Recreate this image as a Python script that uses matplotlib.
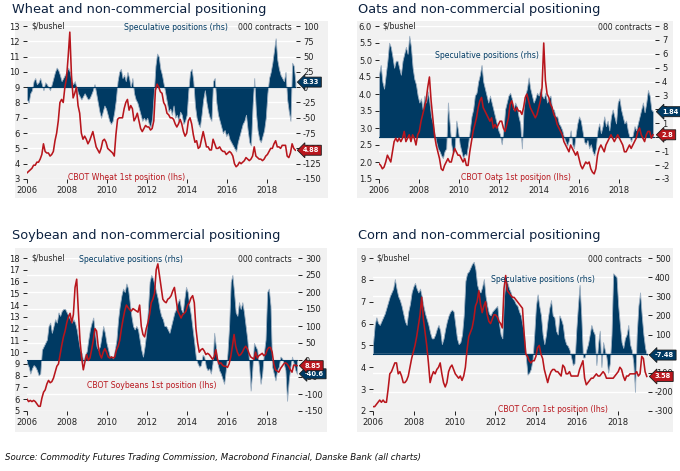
import numpy as np
import matplotlib
matplotlib.use('Agg')
import matplotlib.pyplot as plt
from matplotlib.patches import Rectangle

# ---------------- data (monthly, Jan 2006 onward) ----------------
wheat_price = [3.4, 3.5, 3.6, 3.7, 3.9, 3.9, 4.1, 4.1, 4.3, 4.6, 5.3, 4.8,
               4.7, 4.7, 4.5, 4.6, 4.8, 5.5, 6.0, 6.8, 8.0, 8.2, 8.0, 9.0,
               9.6, 11.0, 12.6, 9.8, 8.3, 8.6, 9.0, 7.8, 7.3, 6.0, 5.6, 5.8,
               5.6, 5.3, 5.5, 5.8, 6.1, 5.6, 5.1, 4.9, 4.7, 5.0, 5.5, 5.6,
               5.4, 5.0, 4.9, 4.8, 4.7, 4.5, 5.9, 6.9, 7.0, 7.0, 7.0, 7.6,
               8.0, 8.2, 7.5, 7.8, 7.6, 6.8, 7.0, 7.3, 6.8, 6.3, 6.1, 6.3,
               6.5, 6.4, 6.4, 6.2, 6.3, 6.8, 8.8, 9.2, 9.0, 8.7, 8.6, 8.0,
               7.8, 7.3, 7.2, 7.0, 7.0, 6.9, 6.6, 6.4, 6.6, 6.9, 6.6, 6.1,
               5.8, 6.0, 6.8, 7.0, 6.6, 5.9, 5.4, 5.5, 5.0, 5.1, 5.6, 6.1,
               5.6, 5.1, 5.1, 4.9, 4.9, 5.6, 5.3, 5.0, 5.0, 5.1, 4.9, 4.8,
               4.8, 4.6, 4.7, 4.8, 4.7, 4.5, 4.0, 3.8, 3.9, 4.1, 4.0, 4.1,
               4.2, 4.4, 4.3, 4.2, 4.3, 4.5, 5.1, 4.5, 4.4, 4.3, 4.3, 4.2,
               4.3, 4.5, 4.6, 4.8, 5.0, 5.0, 5.3, 5.5, 5.1, 5.1, 5.0, 5.2,
               5.2, 5.2, 4.5, 4.4, 4.7, 5.3, 5.0, 4.88]
wheat_pos = [-20, -25, -10, -5, 10, 15, 5, 8, 15, 5, -5, 8,
             5, 0, -5, 5, 15, 25, 32, 28, 20, 10, 15, 20,
             25, 32, 25, 10, 5, 10, 0, -10, -15, -20, -15, -10,
             -15, -20, -18, -12, -5, 5, -10, -25, -40, -50, -40, -30,
             -35, -45, -55, -60, -55, -40, -20, 10, 25, 30, 15, 20,
             10, 25, 15, 0, 15, -10, -20, -25, -35, -45, -55, -50,
             -55, -50, -60, -65, -50, -10, 35, 55, 50, 30, 20, 5,
             -10, -25, -40, -35, -45, -30, -50, -45, -55, -40, -45, -60,
             -55, -45, -5, 25, 30, 10, -30, -50, -60, -65, -45, -20,
             -5, -25, -40, -50, -55, 10, 15, -25, -45, -55, -65, -75,
             -70, -80, -75, -85, -90, -95, -100, -105, -90, -80, -70, -60,
             -55, -45, -70, -90, -95, -30, 15, -40, -70, -85, -90, -80,
             -70, -50, -10, 15, 25, 40, 60, 80, 45, 30, 20, 15,
             10, 25, -20, -40, -55, 40, 35, 8.33]

oats_price = [1.95, 1.9, 1.8, 1.85, 2.0, 2.2, 2.1, 2.0, 2.3, 2.6, 2.7, 2.6,
              2.7, 2.6, 2.7, 2.9, 2.6, 2.7, 2.8, 2.6, 2.8, 2.7, 2.5, 2.8,
              2.9, 3.2, 3.4, 3.6, 3.8, 4.2, 4.5, 3.8, 3.3, 2.8, 2.5, 2.3,
              2.1, 1.8, 1.75, 1.9, 2.0, 2.1, 2.0, 2.0, 2.2, 2.4, 2.3, 2.2,
              2.2, 2.1, 2.0, 2.1, 1.9, 1.9, 2.3, 2.6, 2.9, 3.1, 3.3, 3.6,
              3.8, 3.9, 3.6, 3.5, 3.4, 3.3, 3.2, 3.3, 3.0, 3.1, 3.0, 3.1,
              3.2, 3.2, 3.0, 2.9, 3.1, 3.3, 3.7, 3.8, 3.6, 3.5, 3.6, 3.5,
              3.5, 3.4, 3.6, 3.9, 4.0, 3.8, 3.6, 3.5, 3.4, 3.3, 3.4, 3.6,
              3.8, 4.2, 5.5, 4.4, 4.0, 3.9, 3.7, 3.6, 3.4, 3.3, 3.1, 3.0,
              2.9, 2.8, 2.6, 2.5, 2.4, 2.3, 2.5, 2.4, 2.3, 2.2, 2.3, 2.1,
              1.9, 1.8, 1.9, 2.0, 1.95, 2.0, 1.8, 1.7, 1.65, 1.8, 2.2, 2.4,
              2.5, 2.4, 2.3, 2.5, 2.6, 2.7, 2.8, 2.7, 2.6, 2.7, 2.8, 2.7,
              2.6, 2.5, 2.3, 2.3, 2.4, 2.5, 2.4, 2.5, 2.6, 2.7, 2.9, 3.0,
              2.8, 2.7, 2.6, 2.8, 2.9, 2.9, 2.7, 2.8]
oats_pos = [4.5, 5.2, 4.0, 3.5, 4.5, 5.5, 6.8, 6.5, 5.8, 5.0, 5.5, 5.5,
            5.0, 4.5, 5.5, 6.0, 6.5, 6.0, 7.3, 6.5, 5.0, 4.2, 3.8, 3.0,
            2.5, 2.8, 2.0, 3.0, 2.5, 3.3, 2.5, 1.5, 1.0, 0.3, -0.3, -0.8,
            -1.0, -1.3, -1.5, -1.0, -0.8, 2.5, 1.0, -0.5, -1.2, -0.8, 1.2, 0.5,
            -0.5, -1.0, -1.5, -1.2, -1.3, -0.5, 0.5, 1.5, 2.0, 3.0, 3.2, 4.0,
            4.5, 5.2, 4.0, 3.5, 3.0, 2.5, 3.0, 2.5, 2.0, 1.5, 1.0, 0.5,
            0.2, -0.5, 0.5, 2.0, 2.5, 3.0, 3.2, 2.8, 2.0, 2.5, 2.2, 1.5,
            1.0, -0.8, 2.0, 3.0, 3.5, 4.3, 3.5, 3.0, 2.5, 2.8, 3.2, 3.0,
            3.5, 3.0, 2.8, 3.2, 2.5, 2.8, 3.0, 2.0, 2.0, 1.5, 1.5, 1.0,
            0.8, 0.5, 0.0, -0.3, -0.6, -0.2, 0.5, -0.5, -0.8, 0.2, 1.0, 1.5,
            1.2, 0.5, -0.3, -0.5, -0.2, -0.8, -0.5, -1.0, -1.3, -0.8, 0.5, 1.0,
            0.3, 0.8, 1.5, 0.8, 1.2, 0.5, 1.5, 2.0, 1.5, 1.0, 2.5, 2.8,
            2.0, 1.5, 1.0, 1.2, 0.5, 0.0, -0.3, 0.2, 0.8, 0.5, 1.0, 1.5,
            2.0, 2.5, 1.8, 2.5, 3.4, 3.0, 2.0, 1.84]

soy_price = [6.0, 5.8, 5.9, 5.8, 5.9, 5.8, 5.6, 5.4, 5.4, 6.1, 6.6, 6.8,
             7.3, 7.6, 7.4, 7.5, 7.8, 8.3, 8.8, 9.0, 9.8, 10.6, 11.3, 11.8,
             12.5, 13.0, 13.3, 12.5, 13.2, 15.5, 16.2, 13.5, 11.0, 9.5, 8.5, 9.2,
             9.8, 9.3, 9.5, 10.2, 11.0, 12.0, 11.8, 10.5, 9.8, 9.5, 10.0, 10.3,
             10.0, 9.6, 9.5, 9.6, 9.5, 9.6, 10.2, 10.5, 11.0, 12.0, 12.8, 13.5,
             14.0, 13.8, 13.6, 13.5, 13.7, 13.6, 13.5, 13.4, 14.0, 12.2, 11.5, 11.3,
             12.0, 12.5, 13.2, 14.2, 14.5, 15.0, 17.0, 17.5, 16.5, 15.5, 14.5, 14.3,
             14.2, 14.5, 14.6, 14.8, 15.2, 15.5, 14.5, 13.5, 13.2, 12.9, 13.2, 13.3,
             13.5, 14.0, 14.2, 14.6, 14.8, 14.2, 12.0, 10.8, 10.0, 10.2, 10.3, 10.1,
             9.8, 9.9, 9.8, 9.6, 9.4, 9.6, 10.2, 9.4, 9.0, 9.1, 8.9, 8.8,
             8.8, 8.7, 9.0, 9.6, 10.5, 11.5, 10.5, 10.0, 9.7, 9.8, 10.0, 10.3,
             10.5, 10.3, 9.9, 9.6, 9.5, 9.4, 10.0, 9.5, 9.7, 9.8, 9.9, 9.7,
             9.8, 10.2, 10.4, 10.4, 10.0, 9.0, 8.5, 8.4, 8.3, 8.6, 8.8, 9.0,
             9.1, 9.0, 8.8, 8.5, 8.3, 8.9, 8.9, 8.85]
soy_pos = [-10, -20, -40, -25, -15, -20, -30, -45, -40, 30, 40, 50,
           60, 100, 110, 80, 100, 120, 110, 140, 130, 145, 150, 150,
           140, 130, 120, 110, 120, 110, 90, 60, 30, 20, -5, 15,
           25, 60, 90, 110, 125, 80, 40, 30, 40, 70, 100, 80,
           50, 30, 10, 10, 5, 30, 60, 120, 160, 190, 210, 200,
           225, 210, 170, 130, 100, 90, 100, 90, 60, 30, 10, 40,
           80, 150, 230, 250, 240, 220, 200, 180, 150, 130, 120, 100,
           100, 90, 80, 100, 120, 140, 150, 170, 180, 150, 140, 180,
           215, 200, 160, 130, 90, 50, 5, -10, -20, -15, 15, 10,
           -20, -30, -25, -40, -10, 80, 40, -10, -30, -40, -55, -70,
           -30, 20, 100, 230, 250, 200, 140, 130, 170, 150, 170, 140,
           100, 60, 0, -90, -30, 50, 40, 30, -20, -70, -40, 20,
           60, 200, 210, 160, -20, -40, -60, -30, -20, 10, 5, -10,
           -30, -120, -60, -20, 10, -10, -30, -40.6]

corn_price = [2.2, 2.2, 2.3, 2.4, 2.5, 2.4, 2.5, 2.4, 2.4, 3.0, 3.7, 3.8,
              4.0, 4.2, 4.2, 3.7, 3.8, 3.6, 3.3, 3.3, 3.4, 3.6, 4.0, 4.4,
              4.7, 5.0, 5.4, 5.9, 6.4, 7.2, 6.2, 5.6, 5.0, 4.2, 3.3, 3.6,
              3.8, 3.7, 3.9, 4.0, 4.2, 3.7, 3.3, 3.1, 3.3, 3.8, 4.0, 4.1,
              3.9, 3.7, 3.6, 3.5, 3.6, 3.4, 3.6, 4.0, 4.8, 5.4, 5.6, 5.8,
              6.2, 6.8, 7.0, 7.5, 6.9, 6.5, 6.8, 7.0, 6.4, 6.1, 6.0, 6.2,
              6.4, 6.4, 6.3, 6.1, 6.0, 5.8, 7.6, 8.2, 7.5, 7.4, 7.3, 7.2,
              7.2, 7.1, 7.0, 6.9, 6.8, 6.7, 5.5, 4.6, 4.5, 4.3, 4.2, 4.3,
              4.3, 4.5, 4.9, 5.0, 4.6, 4.4, 3.9, 3.6, 3.3, 3.6, 3.8, 3.9,
              3.9, 3.8, 3.8, 3.7, 3.6, 4.1, 4.0, 3.7, 3.7, 3.8, 3.6, 3.6,
              3.6, 3.6, 3.6, 3.9, 4.1, 4.3, 3.5, 3.2, 3.3, 3.4, 3.5, 3.5,
              3.6, 3.7, 3.6, 3.6, 3.7, 3.8, 3.7, 3.5, 3.5, 3.5, 3.5, 3.5,
              3.6, 3.7, 3.8, 4.0, 3.9, 3.6, 3.4, 3.6, 3.6, 3.7, 3.7, 3.7,
              3.7, 3.8, 3.6, 3.7, 4.5, 4.4, 3.8, 3.58]
corn_pos = [50, 150, 190, 160, 150, 170, 190, 210, 240, 270, 300, 320,
            340, 390, 340, 300, 280, 250, 210, 170, 150, 220, 260, 320,
            350, 370, 340, 320, 340, 300, 250, 210, 180, 150, 110, 80,
            80, 100, 130, 150, 120, 50, 80, 130, 170, 200, 220, 230,
            220, 150, 80, 50, 60, 100, 200, 380, 420, 430, 450, 470,
            480, 440, 360, 330, 320, 350, 390, 300, 250, 210, 200, 220,
            230, 240, 250, 160, 100, 80, 300, 380, 370, 340, 320, 290,
            280, 260, 250, 220, 200, 150, 100, -20, -110, -100, -80, -30,
            100, 250, 310, 250, 200, 100, 50, 100, 180, 240, 280, 200,
            190, 120, 100, 200, 180, 150, 80, 50, 40, 20, -20, -60,
            -50, 120, 250, 360, 200, -20, -20, 20, 50, 100, 150, 120,
            100, -60, 50, 120, -70, 60, 20, -20, -100, -50, 100, 420,
            410, 400, 250, 150, 60, 30, 80, 100, 150, 50, 20, -50,
            -200, 100, 250, 320, 200, 100, 30, -7.48]

years = [2006, 2008, 2010, 2012, 2014, 2016, 2018]

# ---------------- styling ----------------
W, H = 680, 471
fig = plt.figure(figsize=(W / 100, H / 100), dpi=100)
NAVY = '#003a63'
EDGE = '#9fb1c3'
RED = '#b8161d'
BG = '#f1f1f1'
TXT = '#222222'
TITLE = '#0d2240'
plt.rcParams['font.family'] = ['DejaVu Sans']


def fx(px):
    return px / W


def fy(py):
    return 1 - py / H


def panel(bg, title_xy, title, axbox, end, price, pos, llim, lticks, lfmt,
          rlim, rticks, labels, tags):
    l, t, r, b = bg
    fig.patches.append(Rectangle((fx(l), fy(b)), fx(r - l), (b - t) / H,
                                 transform=fig.transFigure, fc=BG, ec='none', zorder=-5))
    fig.text(fx(title_xy[0]), fy(title_xy[1]), title, fontsize=9.3, color=TITLE,
             ha='left', va='center')
    al, at, ar, ab = axbox
    ax = fig.add_axes([fx(al), fy(ab), fx(ar - al), (ab - at) / H])
    ax2 = ax.twinx()
    ax2.set_zorder(1)
    ax.set_zorder(2)
    ax.patch.set_visible(False)
    ax2.patch.set_visible(False)
    x = np.linspace(2006, end, len(price))
    ax2.fill_between(x, 0, pos, facecolor=NAVY, edgecolor=EDGE, linewidth=0.6, zorder=2)
    ax2.axhline(0, color=NAVY, lw=0.8, zorder=3)
    ax.plot(x, price, color=RED, lw=1.15, zorder=4)
    ppy = 20.4 if al == 373 else 20.0
    ax.set_xlim(2006, 2006 + (ar - al) / ppy)
    ax.set_ylim(*llim)
    ax2.set_ylim(*rlim)
    ax.set_xticks(years)
    ax.set_yticks(lticks)
    ax.set_yticklabels([lfmt % v for v in lticks])
    ax2.set_yticks(rticks)
    ax2.set_yticklabels(['%d' % v for v in rticks])
    ax2.grid(axis='y', color='white', lw=1.0)
    ax2.set_axisbelow(True)
    for a in (ax, ax2):
        for s in a.spines.values():
            s.set_visible(False)
    ax.tick_params(axis='both', labelsize=6, colors=TXT, length=3, width=0.7, pad=2)
    ax2.tick_params(axis='y', labelsize=6, colors=TXT, length=3, width=0.7, pad=2)
    # in-plot texts
    (ux, uy), (cx, cy), (sx, sy), (px_, py_, ptxt) = labels
    fig.text(fx(ux), fy(uy), '$/bushel', fontsize=5.6, color=TXT, ha='left', va='center')
    fig.text(fx(cx), fy(cy), '000 contracts', fontsize=5.6, color=TXT, ha='right', va='center')
    fig.text(fx(sx), fy(sy), 'Speculative positions (rhs)', fontsize=5.6, color=NAVY,
             ha='center', va='center')
    fig.text(fx(px_), fy(py_), ptxt, fontsize=5.6, color=RED, ha='center', va='center')
    for txt, axis, val, col in tags:
        target = ax2 if axis == 'r' else ax
        target.annotate(txt, xy=(1.0, val), xycoords=('axes fraction', 'data'),
                        xytext=(5, 0), textcoords='offset points', ha='left', va='center',
                        fontsize=4.8, color='white', fontweight='bold', zorder=10,
                        annotation_clip=False,
                        bbox=dict(boxstyle='larrow,pad=0.3', fc=col, ec='#1a1a1a', lw=0.6))
    return ax


panel((15, 21, 328, 198), (12, 10), 'Wheat and non-commercial positioning',
      (27, 26, 296, 179), 2019.42, wheat_price, wheat_pos,
      (3, 13), list(range(3, 14)), '%d', (-150, 100), list(range(-150, 101, 25)),
      [(31, 26), (292, 28), (176, 28), (127, 177, 'CBOT Wheat 1st position (lhs)')],
      [('8.33', 'r', 8.33, NAVY), ('4.88', 'l', 4.88, RED)])

panel((357, 21, 673, 198), (358, 10), 'Oats and non-commercial positioning',
      (379, 26, 655, 179), 2019.7, oats_price, oats_pos,
      (1.5, 6.0), [1.5 + 0.5 * i for i in range(10)], '%.1f', (-3, 8), list(range(-3, 9)),
      [(382, 26), (652, 27), (487, 55), (516, 177, 'CBOT Oats 1st position (lhs)')],
      [('1.84', 'r', 1.84, NAVY), ('2.8', 'l', 2.8, RED)])

panel((15, 248, 327, 432), (12, 235), 'Soybean and non-commercial positioning',
      (27, 258, 298, 411), 2019.5, soy_price, soy_pos,
      (5, 18), list(range(5, 19)), '%d', (-150, 300), list(range(-150, 301, 50)),
      [(31, 258), (292, 259), (131, 259), (152, 386, 'CBOT Soybeans 1st position (lhs)')],
      [('8.85', 'l', 8.85, RED), ('-40.6', 'r', -40.6, NAVY)])

panel((357, 248, 673, 432), (358, 235), 'Corn and non-commercial positioning',
      (373, 258, 648, 411), 2019.42, corn_price, corn_pos,
      (2, 9), list(range(2, 10)), '%d', (-300, 500), list(range(-300, 501, 100)),
      [(376, 258), (642, 259), (543, 279), (553, 409, 'CBOT Corn 1st position (lhs)')],
      [('-7.48', 'r', -7.48, NAVY), ('3.58', 'l', 3.58, RED)])

fig.text(fx(5), fy(457), 'Source: Commodity Futures Trading Commission, Macrobond Financial, '
         'Danske Bank (all charts)', fontsize=6.2, style='italic', color='#111111',
         ha='left', va='center')

fig.savefig('out.png', dpi=100)
